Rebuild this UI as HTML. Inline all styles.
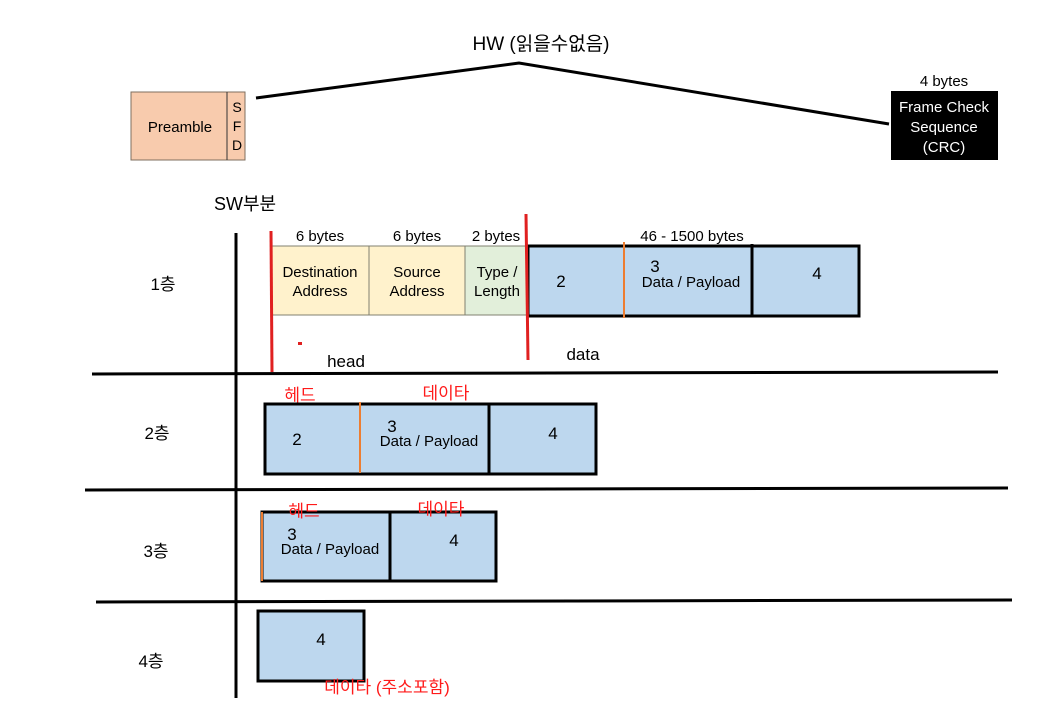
<!DOCTYPE html>
<html><head><meta charset="utf-8"><style>
html,body{margin:0;padding:0;background:#fff;}
svg{display:block}
text{font-family:"Liberation Sans","Noto Sans CJK KR",sans-serif;}
</style></head><body>
<svg width="1061" height="724" viewBox="0 0 1061 724" xmlns="http://www.w3.org/2000/svg">
<rect width="1061" height="724" fill="#fff"/>
<!-- HW -->
<text x="541" y="50" font-size="19" text-anchor="middle" fill="#000">HW (읽을수없음)</text>
<polyline points="256,98 519,63 889,124" fill="none" stroke="#000" stroke-width="3"/>
<!-- Preamble -->
<rect x="131" y="92" width="114" height="68" fill="#f8cbad" stroke="#7f6f5f" stroke-width="1"/>
<line x1="227" y1="92" x2="227" y2="160" stroke="#333" stroke-width="1"/>
<text x="180" y="132" font-size="15" text-anchor="middle">Preamble</text>
<text x="237" y="112" font-size="14" text-anchor="middle">S</text>
<text x="237" y="131" font-size="14" text-anchor="middle">F</text>
<text x="237" y="150" font-size="14" text-anchor="middle">D</text>
<!-- FCS -->
<rect x="891" y="91" width="107" height="69" fill="#000"/>
<text x="944" y="86" font-size="15" text-anchor="middle">4 bytes</text>
<text x="944" y="112" font-size="15" text-anchor="middle" fill="#fff">Frame Check</text>
<text x="944" y="132" font-size="15" text-anchor="middle" fill="#fff">Sequence</text>
<text x="944" y="152" font-size="15" text-anchor="middle" fill="#fff">(CRC)</text>
<!-- SW -->
<text x="214" y="210" font-size="18">SW부분</text>
<!-- axes -->
<line x1="236" y1="233" x2="236" y2="698" stroke="#000" stroke-width="3"/>
<line x1="92" y1="374" x2="998" y2="372" stroke="#000" stroke-width="3"/>
<line x1="85" y1="490" x2="1008" y2="488" stroke="#000" stroke-width="3"/>
<line x1="96" y1="602" x2="1012" y2="600" stroke="#000" stroke-width="3"/>
<text x="163" y="290" font-size="17" text-anchor="middle">1층</text>
<text x="157" y="439" font-size="17" text-anchor="middle">2층</text>
<text x="156" y="557" font-size="17" text-anchor="middle">3층</text>
<text x="151" y="667" font-size="17" text-anchor="middle">4층</text>
<!-- Row 1 -->
<text x="320" y="241" font-size="15" text-anchor="middle">6 bytes</text>
<text x="417" y="241" font-size="15" text-anchor="middle">6 bytes</text>
<text x="496" y="241" font-size="15" text-anchor="middle">2 bytes</text>
<text x="692" y="241" font-size="15" text-anchor="middle">46 - 1500 bytes</text>
<rect x="272" y="246" width="97" height="69" fill="#fff2cc" stroke="#808070" stroke-width="1"/>
<rect x="369" y="246" width="96" height="69" fill="#fff2cc" stroke="#808070" stroke-width="1"/>
<rect x="465" y="246" width="63" height="69" fill="#e2efda" stroke="#808070" stroke-width="1"/>
<text x="320" y="277" font-size="15" text-anchor="middle">Destination</text>
<text x="320" y="296" font-size="15" text-anchor="middle">Address</text>
<text x="417" y="277" font-size="15" text-anchor="middle">Source</text>
<text x="417" y="296" font-size="15" text-anchor="middle">Address</text>
<text x="497" y="277" font-size="15" text-anchor="middle">Type /</text>
<text x="497" y="296" font-size="15" text-anchor="middle">Length</text>
<rect x="528" y="246" width="331" height="70" fill="#bdd7ee" stroke="#000" stroke-width="3"/>
<line x1="624" y1="242" x2="624" y2="318" stroke="#ed7d31" stroke-width="2"/>
<line x1="752" y1="244" x2="752" y2="316" stroke="#000" stroke-width="3"/>
<text x="561" y="287" font-size="17" text-anchor="middle">2</text>
<text x="655" y="272" font-size="17" text-anchor="middle">3</text>
<text x="691" y="287" font-size="15" text-anchor="middle">Data / Payload</text>
<text x="817" y="279" font-size="17" text-anchor="middle">4</text>
<line x1="271" y1="231" x2="272" y2="372" stroke="#e02020" stroke-width="3"/>
<line x1="526" y1="214" x2="528" y2="360" stroke="#e02020" stroke-width="3"/>
<rect x="298" y="342" width="4" height="3" fill="#e02020"/>
<text x="346" y="367" font-size="17" text-anchor="middle">head</text>
<text x="583" y="360" font-size="17" text-anchor="middle">data</text>
<!-- Row 2 -->
<rect x="265" y="404" width="331" height="70" fill="#bdd7ee" stroke="#000" stroke-width="3"/>
<line x1="360" y1="402" x2="360" y2="473" stroke="#ed7d31" stroke-width="2"/>
<line x1="489" y1="403" x2="489" y2="474" stroke="#000" stroke-width="3"/>
<text x="297" y="445" font-size="17" text-anchor="middle">2</text>
<text x="392" y="432" font-size="17" text-anchor="middle">3</text>
<text x="429" y="446" font-size="15" text-anchor="middle">Data / Payload</text>
<text x="553" y="439" font-size="17" text-anchor="middle">4</text>
<text x="300" y="401" font-size="17" text-anchor="middle" fill="#ff1a1a">헤드</text>
<text x="446" y="399" font-size="17" text-anchor="middle" fill="#ff1a1a">데이타</text>
<!-- Row 3 -->
<rect x="262" y="512" width="234" height="69" fill="#bdd7ee" stroke="#000" stroke-width="3"/>
<line x1="262" y1="512" x2="262" y2="581" stroke="#ed7d31" stroke-width="2"/>
<line x1="390" y1="512" x2="390" y2="581" stroke="#000" stroke-width="3"/>
<text x="292" y="540" font-size="17" text-anchor="middle">3</text>
<text x="330" y="554" font-size="15" text-anchor="middle">Data / Payload</text>
<text x="454" y="546" font-size="17" text-anchor="middle">4</text>
<text x="304" y="517" font-size="17" text-anchor="middle" fill="#ff1a1a">헤드</text>
<text x="441" y="515" font-size="17" text-anchor="middle" fill="#ff1a1a">데이타</text>
<!-- Row 4 -->
<rect x="258" y="611" width="106" height="70" fill="#bdd7ee" stroke="#000" stroke-width="3"/>
<text x="321" y="645" font-size="17" text-anchor="middle">4</text>
<text x="387" y="693" font-size="17" text-anchor="middle" fill="#ff1a1a">데이타 (주소포함)</text>
</svg>
</body></html>
